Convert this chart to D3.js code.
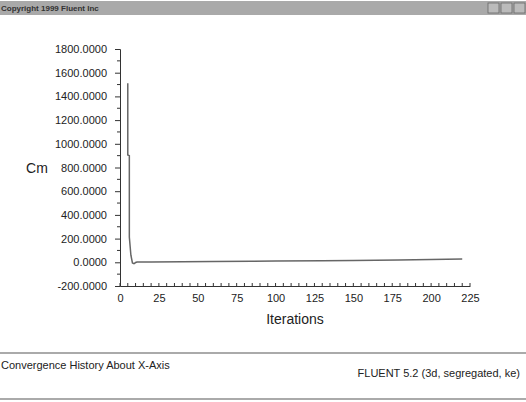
<!DOCTYPE html>
<html><head><meta charset="utf-8">
<script src="https://cdn.jsdelivr.net/npm/d3@7"></script>
<style>body{margin:0;background:#fff;}svg{display:block;font-family:"Liberation Sans",Arial,sans-serif;}</style>
</head><body>
<svg id="c" width="526" height="402"></svg>
<script>
const iterations = [5, 5, 6, 6, 7, 8, 9, 10, 11, 20, 40, 60, 85, 100, 130, 150, 179, 200, 220];
const cmValues   = [1510, 905, 900, 213, 60, -5, -12, -2, 3, 3, 4, 6, 9, 11, 14, 16, 20, 24, 27];
const xTicks = [0, 25, 50, 75, 100, 125, 150, 175, 200, 225];
const yTicks = [-200, 0, 200, 400, 600, 800, 1000, 1200, 1400, 1600, 1800];
const titleText = "Copyright 1999 Fluent Inc";
const footLeft = "Convergence History About X-Axis";
const footRight = "FLUENT 5.2 (3d, segregated, ke)";

const svg = d3.select("#c");
// title bar
svg.append("rect").attr("x",0).attr("y",1).attr("width",526).attr("height",14).attr("fill","#a9a9a9");
svg.append("text").attr("x",1).attr("y",11).attr("font-size",8).attr("font-weight","bold").attr("fill","#333").text(titleText);
[488,501,514].forEach(bx=>{
  svg.append("rect").attr("x",bx).attr("y",3).attr("width",11).attr("height",10).attr("fill","#bbb").attr("stroke","#666").attr("stroke-width",0.8);
});

const x = d3.scaleLinear().domain([0,225]).range([120,470]);
const y = d3.scaleLinear().domain([-200,1800]).range([286,49]);

const gx = svg.append("g").attr("transform","translate(0,286)");
gx.call(d3.axisBottom(x).tickValues(xTicks).tickSize(0).tickPadding(8));
gx.selectAll("text").attr("font-size",11).attr("fill","#222");
gx.select(".domain").attr("stroke","#333");
const xMinor = d3.range(0,226,5);
gx.selectAll("line.mn").data(xMinor).join("line").attr("class","mn")
  .attr("x1",d=>x(d)).attr("x2",d=>x(d)).attr("y1",-3).attr("y2",0).attr("stroke","#333");

const fmt = d => d.toFixed(4);
const gy = svg.append("g").attr("transform","translate(120,0)");
gy.call(d3.axisLeft(y).tickValues(yTicks).tickFormat(fmt).tickSize(5).tickPadding(8));
gy.selectAll("text").attr("font-size",11).attr("fill","#222");
gy.select(".domain").attr("stroke","#333");
gy.selectAll(".tick line").attr("stroke","#333");
const yMinor = d3.range(-100,1800,200);
gy.selectAll("line.mn").data(yMinor).join("line").attr("class","mn")
  .attr("x1",-3).attr("x2",0).attr("y1",d=>y(d)).attr("y2",d=>y(d)).attr("stroke","#333");

svg.append("text").attr("x",37).attr("y",y(800)+5).attr("text-anchor","middle").attr("font-size",14).attr("fill","#222").text("Cm");
svg.append("text").attr("x",295).attr("y",324).attr("text-anchor","middle").attr("font-size",14).attr("fill","#222").text("Iterations");

const data = iterations.map((d,i)=>[d,cmValues[i]]);
svg.append("path").datum(data)
  .attr("d", d3.line().x(d=>x(d[0])).y(d=>y(d[1])))
  .attr("fill","none").attr("stroke","#666").attr("stroke-width",1.5);

// footer
svg.append("rect").attr("x",0).attr("y",352).attr("width",526).attr("height",2).attr("fill","#aaa");
svg.append("rect").attr("x",0).attr("y",398).attr("width",526).attr("height",2).attr("fill","#aaa");
svg.append("text").attr("x",1).attr("y",369).attr("font-size",11).attr("fill","#222").text(footLeft);
svg.append("text").attr("x",520).attr("y",377).attr("text-anchor","end").attr("font-size",11).attr("fill","#222").text(footRight);
</script>
</body></html>
